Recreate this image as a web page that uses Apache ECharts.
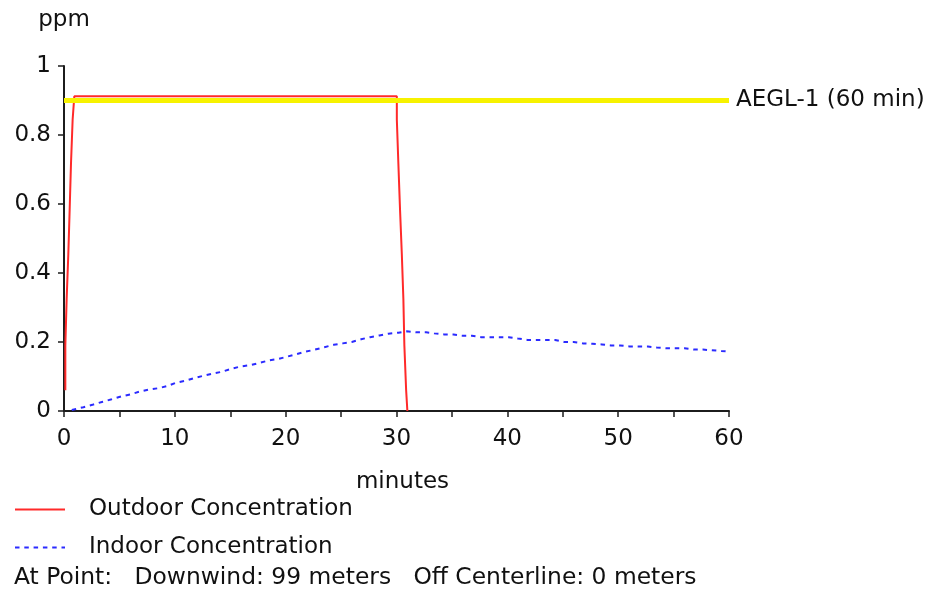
<!DOCTYPE html>
<html>
<head>
<meta charset="utf-8">
<script src="https://cdn.jsdelivr.net/npm/echarts@6/dist/echarts.min.js"></script>
<style>
  html, body { margin: 0; padding: 0; background: #ffffff; }
  #chart { width: 935px; height: 589px; }
</style>
</head>
<body>
<div id="chart"></div>
<script>
// Outdoor concentration (ppm) over time (minutes): a rapid rise, a plateau, then a fall
const outdoorTimes  = [0.12, 0.24, 0.39, 0.51, 0.63, 0.78, 0.93, 30.03, 30.17, 30.32, 30.48, 30.62, 30.71, 30.87, 30.98, 30.98];
const outdoorValues = [0.06, 0.19, 0.325, 0.455, 0.583, 0.716, 0.845, 0.912, 0.845, 0.716, 0.583, 0.455, 0.325, 0.19, 0.06, 0];

// Indoor concentration (ppm) over time (minutes)
const indoorTimes = [0.7, 1.75, 2.65, 3.5, 4.3, 5.15, 5.96, 6.8, 7.65, 8.5, 9.3, 10.1, 11.0, 11.8, 12.7, 13.5, 14.3, 15.15,
  15.95, 16.85, 17.69, 18.53, 19.34, 20.19, 21.0, 21.81, 22.65, 23.49, 24.34, 25.15, 25.97, 26.81, 27.62, 28.46, 29.27,
  30.17, 30.93, 31.77, 32.67, 33.39, 34.3, 35.14, 35.98, 36.8, 37.64, 38.45, 39.29, 40.13, 40.95, 41.82, 42.66, 43.48,
  44.31, 45.13, 45.97, 46.81, 47.68, 48.53, 49.34, 50.18, 51.02, 51.83, 52.68, 53.49, 54.33, 55.15, 55.98, 56.8, 57.64,
  58.45, 59.3, 59.8];
const indoorValues = [0.003, 0.011, 0.019, 0.027, 0.034, 0.042, 0.048, 0.056, 0.062, 0.066, 0.072, 0.082, 0.088, 0.096, 0.103, 0.109, 0.114, 0.123,
  0.129, 0.133, 0.140, 0.147, 0.151, 0.158, 0.165, 0.172, 0.178, 0.185, 0.192, 0.196, 0.200, 0.208, 0.214, 0.219, 0.224,
  0.227, 0.231, 0.228, 0.228, 0.225, 0.222, 0.222, 0.218, 0.218, 0.214, 0.214, 0.214, 0.214, 0.210, 0.206, 0.206, 0.206,
  0.206, 0.200, 0.200, 0.196, 0.195, 0.193, 0.190, 0.190, 0.187, 0.187, 0.187, 0.184, 0.182, 0.182, 0.182, 0.178, 0.178,
  0.176, 0.174, 0.173];

// Threshold level
const aeglLevel = 0.9;
const aeglLabel = 'AEGL-1 (60 min)';

// Axis settings and labels
const xLabelTicks = [0, 10, 20, 30, 40, 50, 60];
const yLabelTicks = [0, 0.2, 0.4, 0.6, 0.8, 1];
const xName = 'minutes';
const yName = 'ppm';
const outdoorName = 'Outdoor Concentration';
const indoorName = 'Indoor Concentration';
const pointInfo = 'At Point:   Downwind: 99 meters   Off Centerline: 0 meters';

const FONT = 'DejaVu Sans, Verdana, sans-serif';
const FS = 23;
const TEXT = '#111111';
const AXIS = '#1c1c1c';

const pairs = (xs, ys) => xs.map((x, i) => [x, ys[i]]);

const chart = echarts.init(document.getElementById('chart'), null, { renderer: 'canvas' });

chart.setOption({
  animation: false,
  backgroundColor: '#ffffff',
  textStyle: { fontFamily: FONT },
  grid: { left: 64, right: 206, top: 66, bottom: 178, containLabel: false },
  xAxis: {
    type: 'value',
    min: 0, max: 60, interval: 5,
    name: xName,
    nameLocation: 'middle',
    nameGap: 60,
    nameTextStyle: { fontFamily: FONT, fontSize: FS, color: TEXT, padding: [0, 0, 0, 12] },
    axisLine: { show: true, lineStyle: { color: AXIS, width: 2 } },
    axisTick: { show: true, length: 6, lineStyle: { color: AXIS, width: 1.5 } },
    axisLabel: {
      fontFamily: FONT, fontSize: FS, color: TEXT, margin: 17,
      formatter: v => (xLabelTicks.indexOf(v) >= 0 ? String(v) : '')
    },
    splitLine: { show: false }
  },
  yAxis: {
    type: 'value',
    min: 0, max: 1, interval: 0.2,
    name: yName,
    nameLocation: 'end',
    nameGap: 34,
    nameTextStyle: { fontFamily: FONT, fontSize: FS, color: TEXT, align: 'center' },
    axisLine: { show: true, lineStyle: { color: AXIS, width: 2 } },
    axisTick: { show: true, length: 6, lineStyle: { color: AXIS, width: 1.5 } },
    axisLabel: {
      fontFamily: FONT, fontSize: FS, color: TEXT, margin: 13,
      formatter: v => {
        const t = yLabelTicks.find(k => Math.abs(k - v) < 1e-9);
        return t === undefined ? '' : String(t);
      }
    },
    splitLine: { show: false }
  },
  legend: {
    orient: 'vertical',
    left: 14,
    top: 498,
    padding: 0,
    itemWidth: 50,
    itemHeight: 28,
    itemGap: 15,
    itemStyle: { opacity: 0 },
    textStyle: { fontFamily: FONT, fontSize: FS, color: TEXT, padding: [0, 0, 0, 19] },
    data: [outdoorName, indoorName]
  },
  series: [
    {
      name: 'AEGL',
      type: 'line',
      data: [],
      silent: true,
      z: 1,
      markLine: {
        silent: true,
        symbol: ['none', 'none'],
        lineStyle: { color: '#f7f200', width: 5, type: 'solid' },
        label: {
          show: true, position: 'end', distance: 7,
          formatter: aeglLabel,
          fontFamily: FONT, fontSize: FS, color: TEXT
        },
        data: [{ yAxis: aeglLevel }]
      }
    },
    {
      name: outdoorName,
      type: 'line',
      step: 'start',
      symbol: 'none',
      z: 3,
      lineStyle: { color: '#ff2a2a', width: 2 },
      itemStyle: { color: '#ff2a2a' },
      data: pairs(outdoorTimes, outdoorValues)
    },
    {
      name: indoorName,
      type: 'line',
      symbol: 'none',
      z: 2,
      lineStyle: { color: '#2b2bff', width: 2, type: [4.5, 4.8] },
      itemStyle: { color: '#2b2bff' },
      data: pairs(indoorTimes, indoorValues)
    }
  ],
  graphic: [
    {
      type: 'text',
      left: 14,
      top: 566,
      style: { text: pointInfo, font: '23.4px ' + FONT, fill: TEXT }
    }
  ]
});
</script>
</body>
</html>
